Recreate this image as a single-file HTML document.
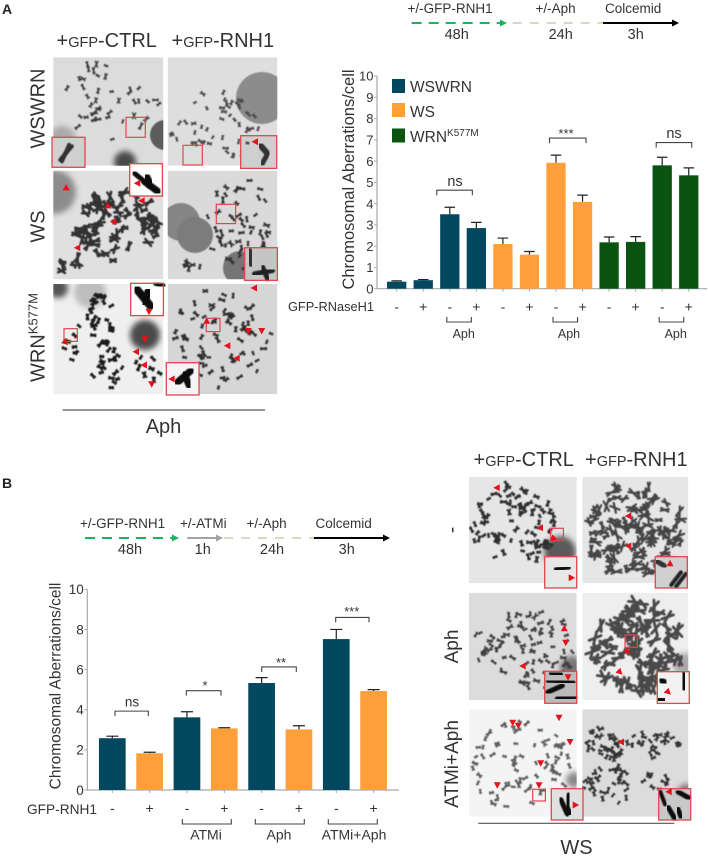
<!DOCTYPE html>
<html lang="en">
<head>
<meta charset="utf-8">
<title>Chromosomal aberrations figure</title>
<style>
html,body{margin:0;padding:0;background:#fff;width:708px;height:856px;overflow:hidden}
svg{display:block}
text{font-family:"Liberation Sans",sans-serif;fill:#333}
</style>
</head>
<body>
<svg id="fig" width="708" height="856" viewBox="0 0 708 856" xmlns="http://www.w3.org/2000/svg">
<defs>
<filter id="soft" x="-20%" y="-20%" width="140%" height="140%"><feGaussianBlur stdDeviation="0.45"/></filter>
<filter id="haze" x="-40%" y="-40%" width="180%" height="180%"><feGaussianBlur stdDeviation="3"/></filter>
</defs>
<g id="micrographs"></g>

<text x="2" y="14" font-size="14" font-weight="bold" style="fill:#222">A</text>
<text x="2" y="488" font-size="14" font-weight="bold" style="fill:#222">B</text>

<!-- Panel A image headers -->
<text x="56.5" y="47" font-size="20">+<tspan font-size="14.5">GFP</tspan>-CTRL</text>
<text x="171.5" y="47" font-size="20">+<tspan font-size="14.5">GFP</tspan>-RNH1</text>
<text transform="translate(44.5,108.5) rotate(-90)" text-anchor="middle" font-size="20">WSWRN</text>
<text transform="translate(44.5,226.5) rotate(-90)" text-anchor="middle" font-size="20">WS</text>
<text transform="translate(44.5,337.5) rotate(-90)" text-anchor="middle" font-size="20">WRN<tspan font-size="13" dy="-7">K577M</tspan></text>
<line x1="62.7" y1="410" x2="265" y2="410" stroke="#555" stroke-width="1.2"/>
<text x="163.5" y="433" text-anchor="middle" font-size="20">Aph</text>

<!-- Panel B image headers -->
<text x="473.5" y="466" font-size="20">+<tspan font-size="14.5">GFP</tspan>-CTRL</text>
<text x="585" y="466" font-size="20">+<tspan font-size="14.5">GFP</tspan>-RNH1</text>
<text transform="translate(458,530) rotate(-90)" text-anchor="middle" font-size="19">-</text>
<text transform="translate(458,646.5) rotate(-90)" text-anchor="middle" font-size="19">Aph</text>
<text transform="translate(458,764) rotate(-90)" text-anchor="middle" font-size="19">ATMi+Aph</text>
<line x1="478.3" y1="823.3" x2="674.3" y2="823.3" stroke="#555" stroke-width="1.2"/>
<text x="576.5" y="854" text-anchor="middle" font-size="20">WS</text>

<!-- Timeline A -->
<g>
<text x="407.5" y="13" font-size="13.5">+/-GFP-RNH1</text>
<text x="535.5" y="13" font-size="13.5">+/-Aph</text>
<text x="605" y="13" font-size="13.5">Colcemid</text>
<line x1="411.7" y1="23" x2="501" y2="23" stroke="#1db35e" stroke-width="2" stroke-dasharray="10 7"/>
<polygon points="500,19.5 507,23 500,26.5" fill="#1db35e"/>
<line x1="512.7" y1="23" x2="603" y2="23" stroke="#d9d9c3" stroke-width="2" stroke-dasharray="9 8"/>
<line x1="603" y1="23" x2="673" y2="23" stroke="#000" stroke-width="2"/>
<polygon points="672,19.5 679,23 672,26.5" fill="#000"/>
<text x="456.7" y="39" text-anchor="middle" font-size="14.5">48h</text>
<text x="560.7" y="39" text-anchor="middle" font-size="14.5">24h</text>
<text x="635.7" y="39" text-anchor="middle" font-size="14.5">3h</text>
</g>

<!-- Timeline B -->
<g>
<text x="80" y="528" font-size="13.5">+/-GFP-RNH1</text>
<text x="180" y="528" font-size="13.5">+/-ATMi</text>
<text x="246.5" y="528" font-size="13.5">+/-Aph</text>
<text x="315.5" y="528" font-size="13.5">Colcemid</text>
<line x1="85" y1="538" x2="173" y2="538" stroke="#1db35e" stroke-width="2" stroke-dasharray="10 7"/>
<polygon points="172,534.5 179,538 172,541.5" fill="#1db35e"/>
<line x1="187.3" y1="538" x2="217" y2="538" stroke="#a3a3a3" stroke-width="2"/>
<polygon points="216,534.5 223,538 216,541.5" fill="#a3a3a3"/>
<line x1="224" y1="538" x2="314" y2="538" stroke="#d9d9c3" stroke-width="2" stroke-dasharray="9 8"/>
<line x1="314" y1="538" x2="384" y2="538" stroke="#000" stroke-width="2"/>
<polygon points="383,534.5 390,538 383,541.5" fill="#000"/>
<text x="130" y="554" text-anchor="middle" font-size="14.5">48h</text>
<text x="202.7" y="554" text-anchor="middle" font-size="14.5">1h</text>
<text x="272" y="554" text-anchor="middle" font-size="14.5">24h</text>
<text x="346.7" y="554" text-anchor="middle" font-size="14.5">3h</text>
</g>

<!-- Legend A -->
<g>
<rect x="392" y="79" width="13" height="14" fill="#03485f"/>
<text x="410" y="92" font-size="15.5">WSWRN</text>
<rect x="392" y="103" width="13" height="14" fill="#ff9f3c"/>
<text x="410" y="117" font-size="15.5">WS</text>
<rect x="392" y="128.5" width="13" height="14" fill="#0a5310"/>
<text x="410" y="142" font-size="15.5">WRN<tspan font-size="10" dy="-6">K577M</tspan></text>
</g>

<g id="chartA"></g>
<g id="chartB"></g>
</svg>

<script>
/* ---------- Chart A data ---------- */
const groupsA = ['WSWRN','WSWRN','WSWRN','WSWRN','WS','WS','WS','WS','WRN','WRN','WRN','WRN'];
const signsA = ['-','+','-','+','-','+','-','+','-','+','-','+'];
const valuesA = [0.33,0.40,3.50,2.85,2.10,1.60,5.92,4.08,2.18,2.20,5.80,5.33];
const errorTopsA = [0.37,0.43,3.83,3.12,2.38,1.75,6.28,4.40,2.43,2.45,6.18,5.68];
const tickLabelsA = [0,1,2,3,4,5,6,7,8,9,10];

/* ---------- Chart B data ---------- */
const groupsB = ['WSWRN','WS','WSWRN','WS','WSWRN','WS','WSWRN','WS'];
const signsB = ['-','+','-','+','-','+','-','+'];
const valuesB = [2.58,1.83,3.62,3.07,5.33,3.02,7.52,4.93];
const errorTopsB = [2.68,1.88,3.90,3.10,5.60,3.20,8.00,5.00];
const tickLabelsB = [0,2,4,6,8,10];

const SVGNS = 'http://www.w3.org/2000/svg';
const colors = {WSWRN:'#03485f', WS:'#ff9f3c', WRN:'#0a5310'};
function mk(tag, attrs, parent){
  const el = document.createElementNS(SVGNS, tag);
  for (const k in attrs) el.setAttribute(k, attrs[k]);
  parent.appendChild(el);
  return el;
}
function label(parent, x, y, str, size, anchor){
  const el = mk('text', {x:x, y:y, 'font-size':size, 'text-anchor':anchor||'middle'}, parent);
  el.textContent = str;
  return el;
}
function bracket(parent, x1, x2, y, dir, name){
  const el = mk('path', {d:'M'+x1+' '+(y+dir*5)+'V'+y+'H'+x2+'V'+(y+dir*5), fill:'none', stroke:'#444', 'stroke-width':1.1}, parent);
  
  
}
function drawChart(root, o){
  const base = o.y(0);
  const axis = mk('path', {d:'M'+o.axisX+' '+o.y(10)+'V'+base+'H'+o.axisEnd, fill:'none', stroke:'#a5aaaa', 'stroke-width':1.2}, root);
  
  
  o.ticks.forEach(function(t){
    const tick = mk('line', {x1:o.axisX-3, x2:o.axisX, y1:o.y(t), y2:o.y(t), stroke:'#a5aaaa', 'stroke-width':1}, root);
    
    
    const tl = label(root, o.axisX-3.5, o.y(t)+o.tickSize*0.36, String(t), o.tickSize, 'end');
    
    
  });
  o.values.forEach(function(v,i){
    const cx = o.x(i);
    const tick = mk('line', {x1:cx, x2:cx, y1:base, y2:base+3, stroke:'#a5aaaa', 'stroke-width':1}, root);
    
    
    const err = mk('path', {d:'M'+cx+' '+o.y(v)+'V'+o.y(o.tops[i])+'M'+(cx-o.cap/2)+' '+o.y(o.tops[i])+'H'+(cx+o.cap/2), fill:'none', stroke:'#222', 'stroke-width':1.2}, root);
    
    
    const bar = mk('rect', {x:cx-o.barW/2, y:o.y(v), width:o.barW, height:base-o.y(v), fill:colors[o.groups[i]]}, root);
    
    
    const sign = label(root, cx, o.signY, o.signs[i], 14);
    
    
  });
}

/* ---------- Chart A ---------- */
const xA = i => 396.7 + i*26.55;
const yA = v => 288.7 - v*21.27;
const rootA = document.getElementById('chartA');
drawChart(rootA, {x:xA, y:yA, axisX:377, axisEnd:707, ticks:tickLabelsA, tickSize:13, values:valuesA, tops:errorTopsA, groups:groupsA, signs:signsA, barW:19.3, cap:10.5, signY:311.5});
const ylabA = mk('text', {transform:'translate(354,179.5) rotate(-90)', 'text-anchor':'middle', 'font-size':16.5}, rootA);
ylabA.textContent = 'Chromosomal Aberrations/cell';


const rowA = label(rootA, 374, 311, 'GFP-RNaseH1', 12.8, 'end');



bracket(rootA, xA(2)-13, xA(3)-4, yA(4.63), 1, 'significance-bracket-wswrn');
const sA1 = label(rootA, 455, 186, 'ns', 14.5);


bracket(rootA, xA(6)-6.5, xA(7)+3.5, yA(7.08), 1, 'significance-bracket-ws');
const sA2 = label(rootA, 566, 138, '***', 13);


bracket(rootA, xA(10)-6, xA(11)+3, yA(6.87), 1, 'significance-bracket-wrn');
const sA3 = label(rootA, 674, 138, 'ns', 14.5);



[[2,463.7],[6,569],[10,675.7]].forEach(function(p){
  bracket(rootA, xA(p[0])-3, xA(p[0]+1)-5, 322, -1, 'aph-group-bracket');
  const al = label(rootA, p[1], 338, 'Aph', 12.5);
  
  
});

/* ---------- Chart B ---------- */
const xB = i => 112.3 + i*37.33;
const yB = v => 790 - v*20.07;
const rootB = document.getElementById('chartB');
drawChart(rootB, {x:xB, y:yB, axisX:87.3, axisEnd:399, ticks:tickLabelsB, tickSize:13.5, values:valuesB, tops:errorTopsB, groups:groupsB, signs:signsB, barW:26.7, cap:12, signY:813});
const ylabB = mk('text', {transform:'translate(60.5,686) rotate(-90)', 'text-anchor':'middle', 'font-size':15.5}, rootB);
ylabB.textContent = 'Chromosomal Aberrations/cell';


const rowB = label(rootB, 97, 814, 'GFP-RNH1', 13.7, 'end');



bracket(rootB, 115, 148.3, yB(3.93), 1, 'significance-bracket-ctrl');
const sB1 = label(rootB, 132, 706.5, 'ns', 13.5);


bracket(rootB, 186.3, 221, yB(4.95), 1, 'significance-bracket-atmi');
const sB2 = label(rootB, 205, 690, '*', 13);


bracket(rootB, 261.7, 296.3, yB(6.13), 1, 'significance-bracket-aph');
const sB3 = label(rootB, 281, 667, '**', 13);


bracket(rootB, 335.7, 369, yB(8.6), 1, 'significance-bracket-atmi-aph');
const sB4 = label(rootB, 351.7, 616, '***', 13);



[[182.3,231.3,206,'ATMi'],[255.3,304.3,279,'Aph'],[328.3,377.3,354,'ATMi+Aph']].forEach(function(p){
  bracket(rootB, p[0], p[1], 824, -1, 'treatment-group-bracket');
  const gl = label(rootB, p[2], 839.5, p[3], 14);
  
  
});

/* ---------- Micrograph textures (decorative, not data) ---------- */
let seed = 12345;
function rnd(){ seed = (seed*1664525 + 1013904223) % 4294967296; return seed/4294967296; }
const micro = document.getElementById('micrographs');
let clipId = 0;
function panel(name, x, y, w, h, bg, blobs, clusters, len, sw, col){
  const id = 'clip' + (clipId++);
  const cp = mk('clipPath', {id:id}, micro);
  mk('rect', {x:x, y:y, width:w, height:h}, cp);
  const g = mk('g', {'clip-path':'url(#'+id+')'}, micro);
  
  
  mk('rect', {x:x, y:y, width:w, height:h, fill:bg}, g);
  blobs.forEach(function(b){
    mk('circle', {cx:b[0], cy:b[1], r:b[2], fill:b[3], filter: b[4] ? 'url(#haze)' : 'url(#soft)'}, g);
  });
  let d = '';
  clusters.forEach(function(c){
    for (let i=0;i<c[4];i++){
      const r = Math.sqrt(rnd()), t = rnd()*6.283;
      const cx = c[0]+Math.cos(t)*r*c[2], cy = c[1]+Math.sin(t)*r*c[3];
      const a = rnd()*3.1416, l = len*(0.6+rnd()*0.7)/2, s = 0.25+rnd()*0.25;
      const f = n => n.toFixed(1);
      d += 'M'+f(cx-Math.cos(a-s)*l)+' '+f(cy-Math.sin(a-s)*l)+'L'+f(cx+Math.cos(a-s)*l)+' '+f(cy+Math.sin(a-s)*l);
      d += 'M'+f(cx-Math.cos(a+s)*l)+' '+f(cy-Math.sin(a+s)*l)+'L'+f(cx+Math.cos(a+s)*l)+' '+f(cy+Math.sin(a+s)*l);
    }
  });
  mk('path', {d:d, fill:'none', stroke:col, 'stroke-width':sw, 'stroke-linecap':'round', filter:'url(#soft)'}, g);
}
function frame(x, y, w, h){
  const b = mk('rect', {x:x, y:y, width:w, height:h, fill:'none', stroke:'#e2454f', 'stroke-width':1.2}, micro);
  
  
}
function inset(x, y, w, h, bg, strokes){
  const g = mk('g', {}, micro);
  
  
  mk('rect', {x:x, y:y, width:w, height:h, fill:bg}, g);
  strokes.forEach(function(s){
    mk('line', {x1:x+s[0]*w, y1:y+s[1]*h, x2:x+s[2]*w, y2:y+s[3]*h, stroke:s[5]||'#111', 'stroke-width':s[4], 'stroke-linecap':'round', filter:'url(#soft)'}, g);
  });
  mk('rect', {x:x, y:y, width:w, height:h, fill:'none', stroke:'#e2454f', 'stroke-width':1.3}, g);
}
function tri(px, py, dir){
  const p = mk('polygon', {points:'-3.5,-3 3.5,-3 0,3.5', fill:'#e5121c', transform:'translate('+px+','+py+') rotate('+dir+')'}, micro);
  
  
}

/* Panel A */
panel('micrograph-wswrn-ctrl',53.3,57.3,110,108.4,'#dcdcdc',[[165,135,15,'#5c5c5c'],[125,162,11,'#4a4a4a',1],[62,140,14,'#aaa',1]],[[112,100,48,42,42]],5,1.5,'#3c3c3c');
panel('micrograph-wswrn-rnh1',167.7,57.3,109.6,108.4,'#dedede',[[262,98,26,'#8c8c8c']],[[215,125,46,36,48]],4,1.6,'#4a4a4a');
panel('micrograph-ws-ctrl',53.3,170.7,110,108.6,'#e0e0e0',[[54,192,22,'#8c8c8c',1]],[[118,225,40,36,72],[68,263,12,10,6],[80,230,10,20,6]],8,2.5,'#303030');
panel('micrograph-ws-rnh1',167.7,170.7,109.6,108.6,'#dadada',[[181,222,19,'#858585'],[195,235,18,'#7c7c7c'],[240,268,17,'#747474']],[[238,222,32,48,50],[190,265,14,6,6]],5,1.7,'#303030');
panel('micrograph-wrn-ctrl',53.3,284,110,110.3,'#efefef',[[145,335,15,'#484848',1],[58,288,10,'#555',1],[90,292,16,'#bdbdbd',1]],[[100,320,14,28,30],[72,340,11,20,9],[125,368,36,22,26]],4.5,2.2,'#1c1c1c');
panel('micrograph-wrn-rnh1',167.7,284,109.6,110.3,'#d6d6d6',[],[[222,338,50,50,80]],4.5,1.8,'#2e2e2e');

frame(126,117.3,19.3,20); inset(52,137.3,33,30,'#d0d0d0',[[.25,.75,.6,.3,4,'#333'],[.3,.8,.52,.25,4,'#333']]);
frame(183,145.3,19.3,19.7); inset(240.7,135.7,36,32.7,'#cfcfcf',[[.55,.3,.75,.55,6,'#333'],[.75,.55,.6,.85,5,'#333'],[.15,.2,.22,.25,4,'#555']]);
inset(129.7,163.7,32.7,32.3,'#fff',[[.15,.3,.45,.55,5],[.45,.55,.85,.85,7],[.5,.4,.65,.7,8]]);
frame(216.3,204.3,19.3,19.3); inset(244.7,247.7,32.7,32.7,'#c5c5c5',[[.15,.1,.2,.5,6,'#333'],[.85,.15,.85,.5,6,'#333'],[.3,.8,.85,.7,5,'#222'],[.55,.6,.7,.95,5,'#222']]);
frame(64,328.7,13.3,12.7); inset(130.7,283.3,32.7,32.3,'#fff',[[.2,.2,.6,.7,8],[.55,.25,.4,.6,8],[.75,0,1,.08,5]]);
frame(206.3,318.3,13.7,13.3); inset(166.3,362.7,32.7,32.3,'#f4f4f4',[[.35,.6,.75,.25,7],[.55,.35,.7,.7,7],[.3,.95,.8,.95,4]]);

/* Panel B */
panel('micrograph-ctrl-untreated',469,476.7,107.7,106.6,'#e6e6e6',[[560,552,16,'#5a5a5a',1]],[[514,528,43,40,84],[505,490,8,8,4]],4.5,2,'#2f2f2f');
panel('micrograph-rnh1-untreated',582.3,476.7,106,106.6,'#e6e6e6',[],[[635,530,50,48,115]],9,2.2,'#454545');
panel('micrograph-ctrl-aph',469,592.7,107.7,107.3,'#dcdcdc',[[572,668,12,'#777',1]],[[532,650,42,44,78],[482,640,9,22,8]],5,1.7,'#404040');
panel('micrograph-rnh1-aph',582.3,592.7,106,107.3,'#eeeeee',[[685,665,12,'#aaa',1]],[[637,648,46,46,98]],11,2.8,'#4a4a4a');
panel('micrograph-ctrl-atmi-aph',469,709.3,107.7,107.4,'#f4f4f4',[[574,780,8,'#888',1]],[[520,766,50,46,78]],4.5,1.7,'#5c5c5c');
panel('micrograph-rnh1-atmi-aph',582.3,709.3,106,107.4,'#dcdcdc',[[686,792,8,'#777',1]],[[605,745,22,18,36],[655,745,30,13,28],[608,785,25,20,34],[655,780,16,10,10]],4.5,1.7,'#333');

frame(550.7,528.3,12.7,12.3); inset(544.7,556.7,32,31.3,'#e8e8e8',[[.35,.4,.75,.35,4],[.4,.65,.55,.65,4]]);
inset(655.3,556.7,32,31.3,'#d0d0d0',[[.5,.9,.8,.5,4,'#222'],[.65,.95,.95,.55,4,'#222'],[.05,.15,.3,.3,5,'#333']]);
inset(544.7,671.3,32,32,'#bbb',[[.1,.3,.9,.35,4],[.1,.65,.55,.45,5],[.4,.85,.95,.8,5],[.2,.05,.5,.1,5]]);
frame(625,635,12.3,12.3); inset(657.3,671.7,32,31.7,'#f2f2f2',[[.5,.1,.5,.6,7],[.8,.1,.85,.5,7],[.1,.25,.25,.35,6],[.05,.9,.2,.85,6]]);
frame(532.7,789.3,12.7,11.7); inset(551.3,788.7,31.7,31.3,'#e0e0e0',[[.3,.35,.5,.8,5],[.55,.2,.5,.8,5],[.6,.8,.5,.6,5]]);
inset(658.7,788.7,32,31.3,'#c8c8c8',[[.6,.1,.95,.3,5],[.3,.6,.5,.95,5],[.6,.65,.7,.9,5],[.05,.1,.2,.5,4]]);

/* Arrowheads (given in page pixels) */
const arrowsPx = [[67,188.7,-60],[108.7,206.7,-60],[113.3,221.7,90],[77.3,247.7,90],[141.7,200.7,90],[137.3,183.3,90],
  [65.7,342.7,-45],[136,351.7,90],[144,365,90],[151.7,384.3,0],[145,339.3,0],[149,311.7,0],
  [206.7,320.7,180],[248.3,331,0],[261.7,331,0],[227.3,345.7,90],[236.7,358.3,90],[171.7,379,90],[255,141.7,90],[254,288,90],
  [496.7,487.7,90],[540,527.7,90],[552.7,539,45],[571.7,577.7,-90],[628.3,516,90],[628.3,546,90],[670,563.3,180],
  [564.3,628.3,180],[565.7,642.7,0],[522.7,666,90],[568,677.3,0],[627.7,651.7,-45],[620,672.3,-45],[668.3,692.3,-45],
  [512.7,722.7,0],[518.3,725.7,0],[559,717.7,0],[570,742,0],[540.7,763.3,0],[539,785.3,0],[497.3,785.3,0],[575.7,805,-90],[621,742,90],[668.7,791.7,90]];
arrowsPx.forEach(function(a){ tri(a[0],a[1],a[2]); });
</script>
</body>
</html>
